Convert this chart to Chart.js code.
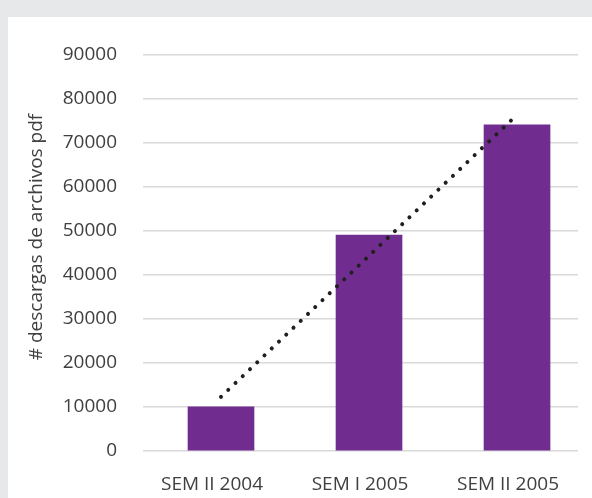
<!DOCTYPE html>
<html>
<head>
<meta charset="utf-8">
<script src="https://cdn.jsdelivr.net/npm/chart.js@4.4.1/dist/chart.umd.min.js"></script>
<style>
	html, body { margin: 0; padding: 0; }
	body { width: 592px; height: 498px; background: #e7e8ea; overflow: hidden; position: relative; }
	#panel { position: absolute; left: 8px; top: 17px; width: 584px; height: 481px; background: #ffffff; }
	canvas { display: block; }
</style>
</head>
<body>
<div id="panel"><canvas id="descargas-chart" width="584" height="481"></canvas></div>
<script>
	// chart data
	var categories = ['SEM II 2004', 'SEM I 2005', 'SEM II 2005'];
	var descargas = [10000, 49000, 74000];
	var tendencia = [12300, 44300, 76300];
	var yTicks = [0, 10000, 20000, 30000, 40000, 50000, 60000, 70000, 80000, 90000];
	var yTitle = '# descargas de archivos pdf';

	var textColor = '#404040';
	var fontFamily = '"Open Sans", "Noto Sans", sans-serif';

	// rotated axis title, drawn by hand to sit where the original has it
	var axisTitlePlugin = {
		id: 'axisTitle',
		afterDraw: function(chart) {
			var ctx = chart.ctx;
			ctx.save();
			ctx.translate(29, 220);
			ctx.rotate(-Math.PI / 2);
			ctx.fillStyle = textColor;
			ctx.font = '19px ' + fontFamily;
			ctx.textAlign = 'center';
			ctx.textBaseline = 'middle';
			ctx.fillText(yTitle, 0, 0);
			ctx.restore();
		}
	};

	var barPoints = descargas.map(function(v, i) { return {x: i, y: v}; });
	var trendPoints = tendencia.map(function(v, i) { return {x: i, y: v}; });

	var ctx = document.getElementById('descargas-chart');
	var chartObject = new Chart(ctx, {
		type: 'bar',
		data: {
			datasets: [
				{
					type: 'line',
					label: 'Lineal',
					data: trendPoints,
					borderColor: '#1f1f1f',
					borderWidth: 4,
					borderDash: [0.01, 10],
					borderCapStyle: 'round',
					pointRadius: 0,
					fill: false,
					tension: 0,
					order: 0
				},
				{
					label: 'Descargas',
					data: barPoints,
					backgroundColor: '#702c8f',
					barThickness: 66,
					order: 1
				}
			]
		},
		options: {
			responsive: false,
			animation: false,
			layout: { padding: { top: 35, right: 14, left: 0, bottom: 0 } },
			plugins: {
				legend: { display: false },
				tooltip: { enabled: false },
				title: { display: false }
			},
			scales: {
				x: {
					type: 'linear',
					min: -0.527,
					max: 2.412,
					offset: false,
					grid: { display: false },
					border: { display: false },
					afterBuildTicks: function(scale) {
						scale.ticks = categories.map(function(c, i) { return {value: i}; });
					},
					afterFit: function(scale) { scale.height = 47; },
					ticks: {
						color: textColor,
						font: { family: fontFamily, size: 19 },
						padding: 14,
						labelOffset: -9,
						maxRotation: 0,
						autoSkip: false,
						callback: function(value) { return categories[value]; }
					}
				},
				y: {
					min: 0,
					max: 90000,
					afterBuildTicks: function(scale) {
						scale.ticks = yTicks.map(function(v) { return {value: v}; });
					},
					afterFit: function(scale) { scale.width = 135; },
					grid: { color: '#d9d9d9', lineWidth: 1.5, drawTicks: false },
					border: { display: false },
					ticks: {
						color: textColor,
						font: { family: fontFamily, size: 19 },
						padding: 26,
						callback: function(value) { return String(value); }
					}
				}
			}
		},
		plugins: [axisTitlePlugin]
	});
</script>
</body>
</html>
